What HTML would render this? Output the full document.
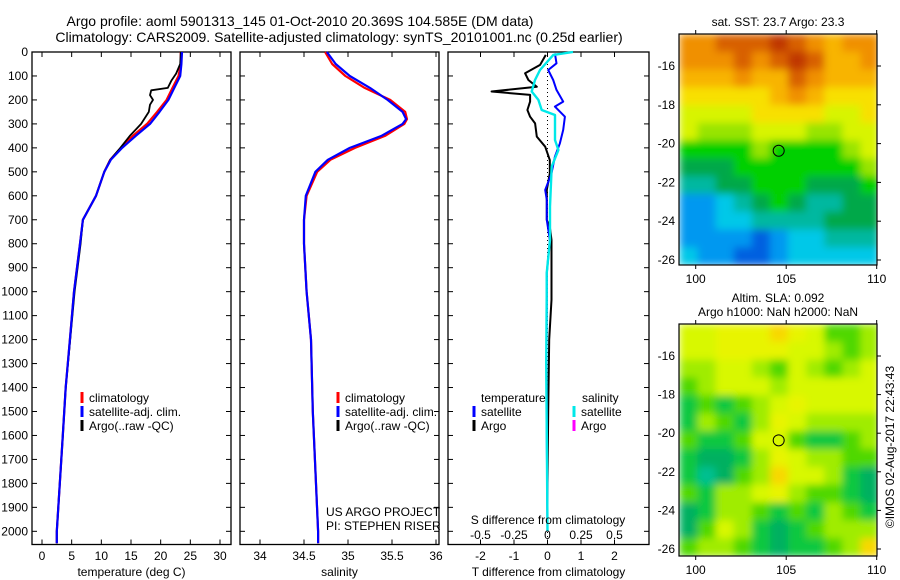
<!DOCTYPE html>
<html><head><meta charset="utf-8">
<style>
body{margin:0;background:#fff;}
svg{display:block;font-family:"Liberation Sans",sans-serif;font-size:12px;}
</style></head>
<body>
<svg id="c" width="900" height="580" viewBox="0 0 900 580">
<defs>
<filter id="blur" x="-5%" y="-5%" width="110%" height="110%"><feGaussianBlur stdDeviation="4" edgeMode="duplicate"/></filter>
<clipPath id="clip1"><rect x="679" y="34" width="198" height="231"/></clipPath>
<clipPath id="clip2"><rect x="679" y="324" width="198" height="232"/></clipPath>
</defs>
<text x="300" y="26" text-anchor="middle" font-size="14">Argo profile: aoml 5901313_145 01-Oct-2010 20.369S 104.585E (DM data)</text>
<text x="339" y="42" text-anchor="middle" font-size="14">Climatology: CARS2009. Satellite-adjusted climatology: synTS_20101001.nc (0.25d earlier)</text>
</svg>
<script>
// ---------- data ----------
const depthTick = [0,100,200,300,400,500,600,700,800,900,1000,1100,1200,1300,1400,1500,1600,1700,1800,1900,2000];
const tempTick = [0,5,10,15,20,25,30];
const salTick = [34,34.5,35,35.5,36];
const tdTick = [-2,-1,0,1,2];
const sdTick = [-0.5,-0.25,0,0.25,0.5];
const sdTickLabels = ['-0.5','-0.25','0','0.25','0.5'];

const tClimDepth = [0,50,100,150,200,250,300,350,400,450,500,600,700,800,900,1000,1200,1400,1600,1800,2000,2050];
const tClim = [23.4,23.4,23.0,22.0,21.0,19.4,17.7,15.3,13.3,11.5,10.5,9.1,6.9,6.4,5.9,5.4,4.7,4.0,3.5,3.0,2.5,2.5];
const tSat = [23.6,23.5,23.3,22.3,21.3,19.8,18.2,15.8,13.5,11.6,10.5,9.1,6.9,6.4,5.9,5.4,4.7,4.0,3.5,3.0,2.5,2.5];
const tArgoDepth = [0,50,90,120,150,160,180,200,220,250,300,350,400,450,500,600,700,800,900,1000,1200,1400,1600,1800,2000,2050];
const tArgo = [23.4,23.3,22.6,21.8,21.2,18.4,18.2,18.7,18.2,18.0,16.7,14.8,13.2,11.5,10.5,9.1,6.9,6.5,6.0,5.5,4.75,4.0,3.5,3.0,2.5,2.5];

const sDepth = [0,50,100,150,200,250,280,300,350,400,450,500,600,700,800,1000,1200,1500,2000,2050];
const sClim = [34.74,34.82,34.97,35.19,35.48,35.65,35.67,35.64,35.42,35.08,34.80,34.65,34.53,34.50,34.50,34.53,34.58,34.60,34.66,34.66];
const sSat = [34.76,34.86,35.02,35.25,35.45,35.62,35.66,35.62,35.38,35.02,34.77,34.63,34.52,34.50,34.50,34.53,34.58,34.60,34.66,34.66];

const tdArgoDepth = [12,54,89,117,145,165,179,207,242,270,298,353,395,451,506,576,645,701,729,784,923,1034,1200,1500,1800,2000];
const tdArgo = [-0.05,-0.22,-0.67,-0.57,-0.32,-1.67,-0.52,-0.52,-0.6,-0.52,-0.37,-0.32,-0.07,0.07,0.07,-0.02,-0.02,-0.02,0.07,0.12,0.12,0.12,0.05,0.02,0.0,0.0];
const tdSatDepth = [6,47,75,117,158,207,228,270,325,381,437,506,576,617,701,784,923,1021,1300,1600,2000];
const tdSat = [0.22,0.27,0.02,0.17,0.27,0.47,0.22,0.52,0.47,0.37,0.22,0.12,-0.07,-0.02,-0.02,0.07,-0.02,-0.02,-0.03,-0.02,0.0];
const sdSatDepth = [0,12,75,117,165,200,242,263,311,367,409,478,645,784,923,1021,1300,1600,2000];
const sdSat = [0.19,0.043,-0.056,-0.093,-0.118,-0.068,-0.043,0.056,0.056,0.056,0.081,0.031,0.019,0.019,-0.006,-0.006,-0.01,-0.005,0.0];

const sstGrid = [
[10,10,11,11,11,12,11,10,9,10,10],
[10,10,10,11,10,11,12,11,9,9,10],
[9,9,9,10,9,9,11,10,9,9,9],
[8,8,8,8,8,9,10,9,8,8,8],
[7,7,7,7,8,8,8,8,7,7,8],
[7,6,6,6,7,7,7,6,6,7,7],
[5,5,5,5,6,5,5,5,5,6,7],
[4,4,4,5,5,5,5,5,5,5,6],
[3,3,4,4,5,5,5,4,4,4,5],
[1,1,2,3,4,5,4,3,3,4,4],
[1,1,2,2,3,3,3,3,4,4,4],
[1,1,1,1,0,1,2,2,3,3,3],
[2,1,1,0,0,1,2,2,2,2,2]];
const slaGrid = [
[7,7,8,8,8,9,8,7,5,5,6],
[7,7,8,8,8,8,7,7,6,5,6],
[6,6,7,7,6,5,7,6,5,6,7],
[5,6,7,7,7,6,7,7,7,7,7],
[4,5,4,5,6,7,8,7,7,7,7],
[4,6,5,4,6,8,7,6,6,6,6],
[5,4,4,5,7,7,5,4,4,5,6],
[4,3,3,4,6,8,7,6,6,5,5],
[4,2,3,5,6,9,7,7,6,4,3],
[5,4,6,6,7,8,6,5,5,4,3],
[3,4,6,6,5,4,5,4,6,5,4],
[3,5,7,6,4,3,4,5,6,6,6],
[5,6,6,5,4,3,4,4,5,6,9]];
const lonTick = [100,105,110];
const latTick = [16,18,20,22,24,26];
const argoLon = 104.585, argoLat = 20.369;

// ---------- drawing ----------
const NS='http://www.w3.org/2000/svg';
const svg=document.getElementById('c');
function mk(tag,attrs,parent){const e=document.createElementNS(NS,tag);for(const k in attrs)e.setAttribute(k,attrs[k]);(parent||svg).appendChild(e);return e;}
function lin(d0,d1,r0,r1){return v=>r0+(v-d0)*(r1-r0)/(d1-d0);}
const Y=lin(0,2055,52,544.5);

function panel(name,x0,x1,xs,xticks,xlabels,title){
  const g=mk('g',{});
  
  
  const r=mk('rect',{x:x0,y:52,width:x1-x0,height:492.5,fill:'none',stroke:'#000','stroke-width':1.3},g);
  
  
  depthTick.forEach(d=>{
    mk('line',{x1:x0,x2:x0+5,y1:Y(d),y2:Y(d),stroke:'#000'},g);
    mk('line',{x1:x1-5,x2:x1,y1:Y(d),y2:Y(d),stroke:'#000'},g);
  });
  xticks.forEach((t,i)=>{
    const x=xs(t);
    mk('line',{x1:x,x2:x,y1:52,y2:57,stroke:'#000'},g);
    mk('line',{x1:x,x2:x,y1:539.5,y2:544.5,stroke:'#000'},g);
    const tx=mk('text',{x:x,y:560,'text-anchor':'middle'},g);tx.textContent=xlabels[i];
    
    
  });
  const tt=mk('text',{x:(x0+x1)/2,y:576,'text-anchor':'middle'},g);tt.textContent=title;
  
  
  return g;
}
function line(g,xs,vals,depths,color,w,name){
  const p=vals.map((v,i)=>xs(v).toFixed(1)+','+Y(depths[i]).toFixed(1)).join(' ');
  const e=mk('polyline',{points:p,fill:'none',stroke:color,'stroke-width':w,'stroke-linejoin':'round'},g);
  
  
}
function legend(g,x,y,items){
  items.forEach((it,i)=>{
    mk('line',{x1:x,x2:x,y1:y+i*14-10,y2:y+i*14+1,stroke:it[1],'stroke-width':3},g);
    const t=mk('text',{x:x+7,y:y+i*14},g);t.textContent=it[0];
    
    
  });
}

depthTick.forEach(d=>{
  const t=mk('text',{x:28,y:Y(d)+4,'text-anchor':'end'});t.textContent=d;
  
  
});

const XT=lin(0,30,42,220);
const g1=panel('temperature-panel',32,231,XT,tempTick,tempTick.map(String),'temperature (deg C)');
line(g1,XT,tClim,tClimDepth,'#ff0000',2.2,'temp-climatology-line');
line(g1,XT,tArgo,tArgoDepth,'#000',1.8,'temp-argo-line');
line(g1,XT,tSat,tClimDepth,'#0000ff',2.2,'temp-satellite-line');
legend(g1,82,402,[['climatology','#f00'],['satellite-adj. clim.','#00f'],['Argo(..raw -QC)','#000']]);

const XS=lin(34,36,260,436);
const g2=panel('salinity-panel',240,439,XS,salTick,salTick.map(String),'salinity');
line(g2,XS,sClim,sDepth,'#ff0000',2.2,'sal-climatology-line');
line(g2,XS,sSat,sDepth,'#0000ff',2.2,'sal-satellite-line');
legend(g2,338,402,[['climatology','#f00'],['satellite-adj. clim.','#00f'],['Argo(..raw -QC)','#000']]);
[['US ARGO PROJECT',516],['PI: STEPHEN RISER',530]].forEach(a=>{const t=mk('text',{x:326,y:a[1]},g2);t.textContent=a[0];
  });

const XD=lin(0,1,547.5,581);
const XSD=lin(0,0.25,547.5,581);
const g3=panel('difference-panel',448,649,XD,tdTick,tdTick.map(String),'T difference from climatology');
mk('line',{x1:XD(0),x2:XD(0),y1:52,y2:544,stroke:'#000','stroke-dasharray':'1,3'},g3);
line(g3,XD,tdArgo,tdArgoDepth,'#000',2,'tdiff-argo-line');
line(g3,XD,tdSat,tdSatDepth,'#0000ff',2,'tdiff-satellite-line');
line(g3,XSD,sdSat,sdSatDepth,'#00e8e8',2.4,'sdiff-satellite-line');
sdTick.forEach((t,i)=>{const tx=mk('text',{x:XSD(t),y:539,'text-anchor':'middle'},g3);tx.textContent=sdTickLabels[i];
  });
const st=mk('text',{x:548,y:524,'text-anchor':'middle'},g3);st.textContent='S difference from climatology';

const lt1=mk('text',{x:481,y:402},g3);lt1.textContent='temperature';

const lt2=mk('text',{x:582,y:402},g3);lt2.textContent='salinity';

legend(g3,474,416,[['satellite','#00f'],['Argo','#000']]);
legend(g3,574,416,[['satellite','#00e8e8'],['Argo','#ff00ff']]);

const pal=['#0060e0','#0098f0','#00c8e8','#00b8a0','#00a848','#00d000','#98e400','#d8f400','#f8e000','#f8b400','#f09000','#d86000','#c03800'];
const pal2=['#00b8a8','#00c8a0','#00c090','#00b060','#10c840','#50d800','#a0ec00','#d8f800','#e8f400','#f8d800','#f0b000','#e89000','#e07000'];
function map(name,top,bottom,lat16,lat26,grid,colors,clip){
  const g=mk('g',{});
  
  
  const cg=mk('g',{'clip-path':'url(#'+clip+')'},g);
  const bg=mk('g',{filter:'url(#blur)'},cg);
  const XL=lin(100,110,695.7,876.7), YL=lin(16,26,lat16,lat26);
  const lonL=99.1, lonR=110.1, latT=16-(lat16-top)/((lat26-lat16)/10), latB=26+(bottom-lat26)/((lat26-lat16)/10);
  const rows=grid.length, cols=grid[0].length;
  const dlat=(latB-latT)/rows, dlon=(lonR-lonL)/cols;
  grid.forEach((row,r)=>row.forEach((v,c)=>{
    const x=XL(lonL+c*dlon), y=YL(latT+r*dlat);
    const cell=mk('rect',{x:x.toFixed(1),y:y.toFixed(1),width:(XL(lonL+(c+1)*dlon)-x+0.6).toFixed(1),height:(YL(latT+(r+1)*dlat)-y+0.6).toFixed(1),fill:colors[v]},bg);
    
    
  }));
  const fr=mk('rect',{x:679,y:top,width:198,height:bottom-top,fill:'none',stroke:'#000','stroke-width':1.2},g);
  
  lonTick.forEach(l=>{const x=XL(l);
    mk('line',{x1:x,x2:x,y1:top-4,y2:top,stroke:'#000'},g);
    mk('line',{x1:x,x2:x,y1:bottom,y2:bottom+4,stroke:'#000'},g);
    const t=mk('text',{x:x,y:bottom+18,'text-anchor':'middle'},g);t.textContent=l;
    });
  latTick.forEach(l=>{const y=YL(l);
    mk('line',{x1:877,x2:881,y1:y,y2:y,stroke:'#000'},g);
    const t=mk('text',{x:675,y:y+4,'text-anchor':'end'},g);t.textContent='-'+l;
    });
  const c=mk('circle',{cx:XL(argoLon),cy:YL(argoLat),r:5.5,fill:'none',stroke:'#000','stroke-width':1},g);
  
}
map('sst-map',34,265,66,260,sstGrid,pal,'clip1');
map('sla-map',324,556,356,549,slaGrid,pal2,'clip2');
[['sat. SST: 23.7 Argo: 23.3',26,'sst-map-title'],['Altim. SLA: 0.092',302,'sla-map-title'],['Argo h1000: NaN h2000: NaN',316,'sla-map-subtitle']].forEach(a=>{
  const t=mk('text',{x:778,y:a[1],'text-anchor':'middle'});t.textContent=a[0];
  });
const cr=mk('text',{x:0,y:0,'text-anchor':'middle',transform:'translate(894,447) rotate(-90)'});cr.textContent='©IMOS 02-Aug-2017 22:43:43';

</script>
</body></html>
